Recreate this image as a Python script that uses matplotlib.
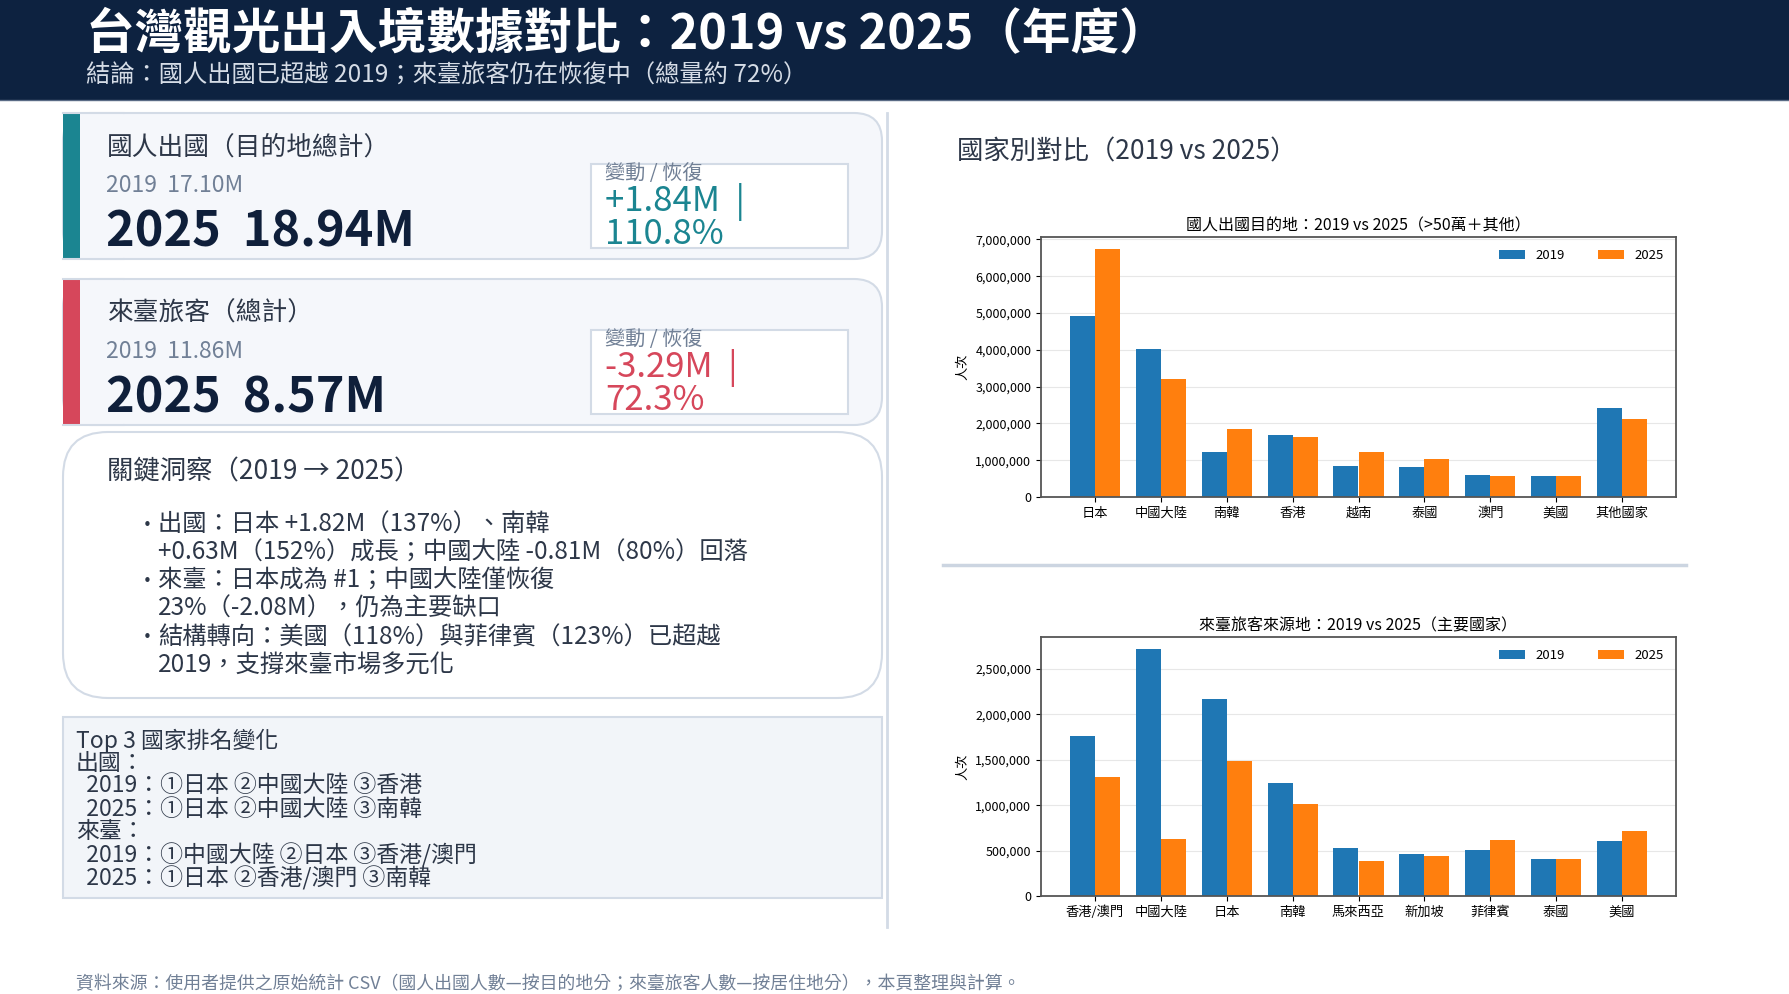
import matplotlib
matplotlib.use("Agg")
import matplotlib.pyplot as plt
import numpy as np
from matplotlib.patches import Rectangle, FancyBboxPatch
from matplotlib.ticker import FuncFormatter

plt.rcParams['font.family'] = ['Noto Sans CJK TC', 'DejaVu Sans']

# ---- data ----
out_countries = ['日本', '中國大陸', '南韓', '香港', '越南', '泰國', '澳門', '美國', '其他國家']
out_2019 = [4910000, 4030000, 1210000, 1680000, 840000, 825000, 590000, 560000, 2420000]
out_2025 = [6730000, 3220000, 1840000, 1630000, 1210000, 1040000, 560000, 570000, 2130000]

in_countries = ['香港/澳門', '中國大陸', '日本', '南韓', '馬來西亞', '新加坡', '菲律賓', '泰國', '美國']
in_2019 = [1757000, 2716000, 2167000, 1241000, 534000, 461000, 505000, 410000, 604000]
in_2025 = [1307000, 633000, 1482000, 1010000, 381000, 443000, 622000, 410000, 714000]

title = '台灣觀光出入境數據對比：2019 vs 2025（年度）'
subtitle = '結論：國人出國已超越 2019；來臺旅客仍在恢復中（總量約 72%）'

kpi_titles = ['國人出國（目的地總計）', '來臺旅客（總計）']
kpi_2019 = ['2019  17.10M', '2019  11.86M']
kpi_2025 = ['2025  18.94M', '2025  8.57M']
kpi_delta = ['+1.84M  |', '-3.29M  |']
kpi_recovery = ['110.8%', '72.3%']

insight_title = '關鍵洞察（2019 → 2025）'
insight_lines = [
    ('•', '出國：日本 +1.82M（137%）、南韓'),
    ('', '+0.63M（152%）成長；中國大陸 -0.81M（80%）回落'),
    ('•', '來臺：日本成為 #1；中國大陸僅恢復'),
    ('', '23%（-2.08M），仍為主要缺口'),
    ('•', '結構轉向：美國（118%）與菲律賓（123%）已超越'),
    ('', '2019，支撐來臺市場多元化'),
]

rank_lines = [
    'Top 3 國家排名變化',
    '出國：',
    '  2019：①日本 ②中國大陸 ③香港',
    '  2025：①日本 ②中國大陸 ③南韓',
    '來臺：',
    '  2019：①中國大陸 ②日本 ③香港/澳門',
    '  2025：①日本 ②香港/澳門 ③南韓',
]

source = '資料來源：使用者提供之原始統計 CSV（國人出國人數—按目的地分；來臺旅客人數—按居住地分），本頁整理與計算。'

# ---- colours ----
NAVY = '#0d2240'
DARK = '#2d3748'
GRAY = '#718096'
BORDER = '#d3dbe6'
TEAL = '#1b8591'
RED = '#d6475b'
C19 = '#1f77b4'
C25 = '#ff7f0e'

W, H = 1790, 994
fig = plt.figure(figsize=(W / 100, H / 100), dpi=100)
fig.patch.set_facecolor('white')

bg = fig.add_axes([0, 0, 1, 1])
bg.set_xlim(0, W)
bg.set_ylim(H, 0)
bg.axis('off')

# header
bg.add_patch(Rectangle((0, 0), W, 100, color=NAVY, lw=0))
bg.plot([0, W], [100, 100], color='#5a6b85', lw=1)
bg.text(86, 35, title, color='white', fontsize=35, fontweight='bold', va='center')
bg.text(86, 76, subtitle, color='#d5dce6', fontsize=17.5, va='center')


def kpi_card(top, accent, idx):
    x0, x1, h = 63, 882, 146
    bg.add_patch(FancyBboxPatch((x0, top), x1 - x0, h,
                                boxstyle='round,pad=0,rounding_size=28',
                                fc='#f5f7fb', ec=BORDER, lw=1.5))
    # square off the left side
    bg.add_patch(Rectangle((x0, top + 0.8), 60, h - 1.6, fc='#f5f7fb', lw=0))
    bg.plot([x0, x0 + 60], [top, top], color=BORDER, lw=1.5)
    bg.plot([x0, x0 + 60], [top + h, top + h], color=BORDER, lw=1.5)
    bg.add_patch(Rectangle((x0, top), 17, h, color=accent, lw=0))

    bg.text(107, top + 35, kpi_titles[idx], color=DARK, fontsize=18.5,
            fontweight='medium', va='center')
    bg.text(106, top + 72, kpi_2019[idx], color=GRAY, fontsize=16.5, va='center')
    bg.text(106, top + 119, kpi_2025[idx], color='#0f1f3a', fontsize=35,
            fontweight='bold', va='center')

    bg.add_patch(Rectangle((591, top + 51), 257, 84, fc='white', ec=BORDER, lw=1.5))
    bg.text(605, top + 60, '變動 / 恢復', color=GRAY, fontsize=14.5, va='center')
    bg.text(605, top + 89, kpi_delta[idx], color=accent, fontsize=25,
            fontweight='medium', va='center')
    bg.text(605, top + 122, kpi_recovery[idx], color=accent, fontsize=25,
            fontweight='medium', va='center')


kpi_card(113, TEAL, 0)
kpi_card(279, RED, 1)

# insight card
bg.add_patch(FancyBboxPatch((63, 432), 819, 266,
                            boxstyle='round,pad=0,rounding_size=45',
                            fc='white', ec=BORDER, lw=1.5))
bg.text(107, 472, insight_title, color=DARK, fontsize=19, fontweight='medium',
        va='center')
line_y = [525, 553, 581, 609, 638, 666]
for (bullet, txt), y in zip(insight_lines, line_y):
    if bullet:
        bg.text(147, y, bullet, color=DARK, fontsize=11, va='center', ha='center',
                family='DejaVu Sans')
    bg.text(158, y, txt, color=DARK, fontsize=17.5, va='center')

# ranking box
bg.add_patch(Rectangle((63, 717), 819, 181, fc='#f2f5f9', ec=BORDER, lw=1.5))
rank_y = [741, 764, 786, 809, 832, 855, 878]
for txt, y in zip(rank_lines, rank_y):
    bg.text(76, y, txt, color=DARK, fontsize=16.5, va='center')

# vertical divider
bg.plot([887, 887], [113, 927], color='#d3dbe6', lw=2)

# footer
bg.text(76, 984, source, color=GRAY, fontsize=12.9, va='center')

# right side heading & separator
bg.text(957, 152, '國家別對比（2019 vs 2025）', color=DARK, fontsize=19, va='center')
bg.plot([943, 1686], [565, 565], color='#ccd5e1', lw=2.5)


def bar_chart(rect, cats, v19, v25, ttl):
    ax = fig.add_axes(rect)
    x = np.arange(len(cats))
    w = 0.38
    ax.bar(x - w / 2, v19, w, color=C19, label='2019')
    ax.bar(x + w / 2, v25, w, color=C25, label='2025')
    ax.set_xticks(x)
    ax.set_xticklabels(cats, fontsize=9.5)
    ax.tick_params(axis='y', labelsize=9)
    ax.yaxis.set_major_formatter(FuncFormatter(lambda v, p: f'{int(v):,}'))
    ax.set_ylabel('人次', fontsize=9.5)
    ax.set_title(ttl, fontsize=11.5, pad=5)
    ax.grid(axis='y', alpha=0.3)
    ax.set_axisbelow(True)
    for s in ax.spines.values():
        s.set_color('#555555')
        s.set_linewidth(1.3)
    ax.legend(loc='upper right', ncol=2, frameon=False, fontsize=9.5,
              columnspacing=2.5)
    return ax


def frac(x0, y0, x1, y1):
    return [x0 / W, 1 - y1 / H, (x1 - x0) / W, (y1 - y0) / H]


bar_chart(frac(1041, 237, 1676, 497), out_countries, out_2019, out_2025,
          '國人出國目的地：2019 vs 2025（>50萬＋其他）')
bar_chart(frac(1041, 637, 1676, 896), in_countries, in_2019, in_2025,
          '來臺旅客來源地：2019 vs 2025（主要國家）')

fig.savefig('out.png', dpi=100, facecolor='white')
